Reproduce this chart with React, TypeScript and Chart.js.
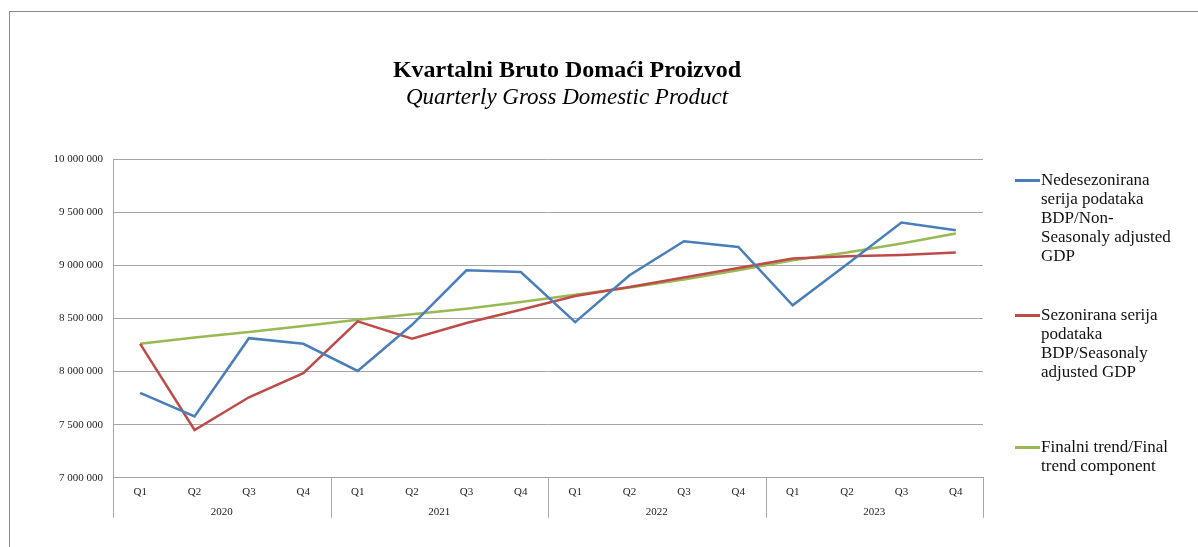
import React, { useEffect, useRef } from 'react';
import { Chart, registerables } from 'chart.js';

Chart.register(...registerables);

const quarters = ['Q1', 'Q2', 'Q3', 'Q4', 'Q1', 'Q2', 'Q3', 'Q4', 'Q1', 'Q2', 'Q3', 'Q4', 'Q1', 'Q2', 'Q3', 'Q4'];
const years = ['2020', '2021', '2022', '2023'];

const nonSeasonal = [7800000, 7578000, 8314000, 8261000, 8006000, 8440000, 8953000, 8937000, 8465000, 8906000, 9226000, 9173000, 8623000, 9010000, 9403000, 9330000];
const seasonal = [8261000, 7450000, 7758000, 7984000, 8472000, 8308000, 8456000, 8582000, 8711000, 8796000, 8884000, 8975000, 9063000, 9085000, 9097000, 9120000];
const trend = [8261000, 8321000, 8371000, 8428000, 8488000, 8538000, 8591000, 8654000, 8722000, 8790000, 8865000, 8953000, 9047000, 9120000, 9205000, 9299000];

const yMin = 7000000;
const yMax = 10000000;
const yStep = 500000;

const titleMain = 'Kvartalni Bruto Domaći Proizvod';
const titleSub = 'Quarterly Gross Domestic Product';

const legendNonSeasonal = ['Nedesezonirana', 'serija podataka', 'BDP/Non-', 'Seasonaly adjusted', 'GDP'];
const legendSeasonal = ['Sezonirana serija', 'podataka', 'BDP/Seasonaly', 'adjusted GDP'];
const legendTrend = ['Finalni trend/Final', 'trend component'];

const BLUE = '#4a7ebb';
const RED = '#be4b48';
const GREEN = '#98b954';
const GRID = '#a6a6a6';
const SERIF = '"Liberation Serif", "Times New Roman", serif';

const fmt = (v: number) => String(Math.round(v)).replace(/\B(?=(\d{3})+(?!\d))/g, ' ');

const yearRowPlugin = {
  id: 'yearRow',
  afterDraw(chart: any) {
    const xs = chart.scales.x;
    const { ctx, chartArea } = chart;
    const half = (xs.getPixelForValue(1) - xs.getPixelForValue(0)) / 2;
    ctx.save();
    ctx.strokeStyle = GRID;
    ctx.lineWidth = 1;
    for (let g = 0; g <= years.length; g++) {
      const idx = g * 4;
      const px = idx < quarters.length ? xs.getPixelForValue(idx) - half : xs.getPixelForValue(quarters.length - 1) + half;
      const x = Math.round(px) + 0.5;
      ctx.beginPath();
      ctx.moveTo(x, chartArea.bottom);
      ctx.lineTo(x, chartArea.bottom + 40);
      ctx.stroke();
    }
    ctx.fillStyle = '#222';
    ctx.font = '11px ' + SERIF;
    ctx.textAlign = 'center';
    ctx.textBaseline = 'middle';
    years.forEach((yr, g) => {
      const cx = (xs.getPixelForValue(g * 4) + xs.getPixelForValue(g * 4 + 3)) / 2;
      ctx.fillText(yr, cx, chartArea.bottom + 34);
    });
    ctx.restore();
  },
};

function LegendItem({ top, color, lines }: { top: number; color: string; lines: string[] }) {
  return (
    <div style={{ position: 'absolute', left: 1015, top, fontFamily: SERIF, fontSize: 17, lineHeight: '19px', color: '#111' }}>
      <div style={{ position: 'absolute', left: 0, top: 9, width: 25, height: 2.5, background: color }} />
      <div style={{ marginLeft: 26 }}>
        {lines.map((l, i) => (
          <div key={i} style={{ whiteSpace: 'nowrap' }}>{l}</div>
        ))}
      </div>
    </div>
  );
}

export default function App() {
  const canvasRef = useRef<HTMLCanvasElement | null>(null);

  useEffect(() => {
    if (!canvasRef.current) return;
    const chart = new Chart(canvasRef.current, {
      type: 'line',
      data: {
        labels: quarters,
        datasets: [
          { label: legendNonSeasonal.join(' '), data: nonSeasonal, borderColor: BLUE, backgroundColor: BLUE, borderWidth: 2.5, pointRadius: 0, tension: 0 },
          { label: legendSeasonal.join(' '), data: seasonal, borderColor: RED, backgroundColor: RED, borderWidth: 2.5, pointRadius: 0, tension: 0 },
          { label: legendTrend.join(' '), data: trend, borderColor: GREEN, backgroundColor: GREEN, borderWidth: 2.5, pointRadius: 0, tension: 0 },
        ],
      },
      options: {
        responsive: false,
        animation: false,
        layout: { padding: { left: 9, right: 215, top: 159, bottom: 40 } },
        plugins: {
          legend: { display: false },
          title: { display: false },
          tooltip: { enabled: false },
        },
        scales: {
          x: {
            type: 'category',
            offset: true,
            grid: { display: false, drawOnChartArea: false, drawTicks: false },
            border: { display: true, color: GRID, width: 1 },
            ticks: { color: '#222', font: { family: SERIF, size: 11 }, padding: 8, maxRotation: 0, autoSkip: false },
          },
          y: {
            min: yMin,
            max: yMax,
            afterFit: (scale: any) => { scale.width = 104; },
            ticks: { stepSize: yStep, color: '#222', font: { family: SERIF, size: 11 }, padding: 10, callback: (v: any) => fmt(Number(v)) },
            grid: { color: GRID, lineWidth: 1, drawTicks: false },
            border: { display: true, color: GRID, width: 1 },
          },
        },
      },
      plugins: [yearRowPlugin],
    });
    return () => chart.destroy();
  }, []);

  return (
    <div style={{ position: 'fixed', left: 0, top: 0, width: 1198, height: 547, overflow: 'hidden', background: '#fff' }}>
      <div style={{ position: 'absolute', left: 9, top: 11, width: 1300, height: 700, borderTop: '1.5px solid #8a8a8a', borderLeft: '1.5px solid #8a8a8a' }} />
      <canvas ref={canvasRef} width={1198} height={547} style={{ position: 'absolute', left: 0, top: 0, width: 1198, height: 547 }} />
      <div style={{ position: 'absolute', left: 267, width: 600, top: 55, textAlign: 'center', fontFamily: SERIF, fontWeight: 'bold', fontSize: 24, lineHeight: '28px', color: '#000' }}>{titleMain}</div>
      <div style={{ position: 'absolute', left: 267, width: 600, top: 83, textAlign: 'center', fontFamily: SERIF, fontStyle: 'italic', fontSize: 23, lineHeight: '28px', color: '#000' }}>{titleSub}</div>
      <LegendItem top={170} color={BLUE} lines={legendNonSeasonal} />
      <LegendItem top={305} color={RED} lines={legendSeasonal} />
      <LegendItem top={437} color={GREEN} lines={legendTrend} />
    </div>
  );
}
